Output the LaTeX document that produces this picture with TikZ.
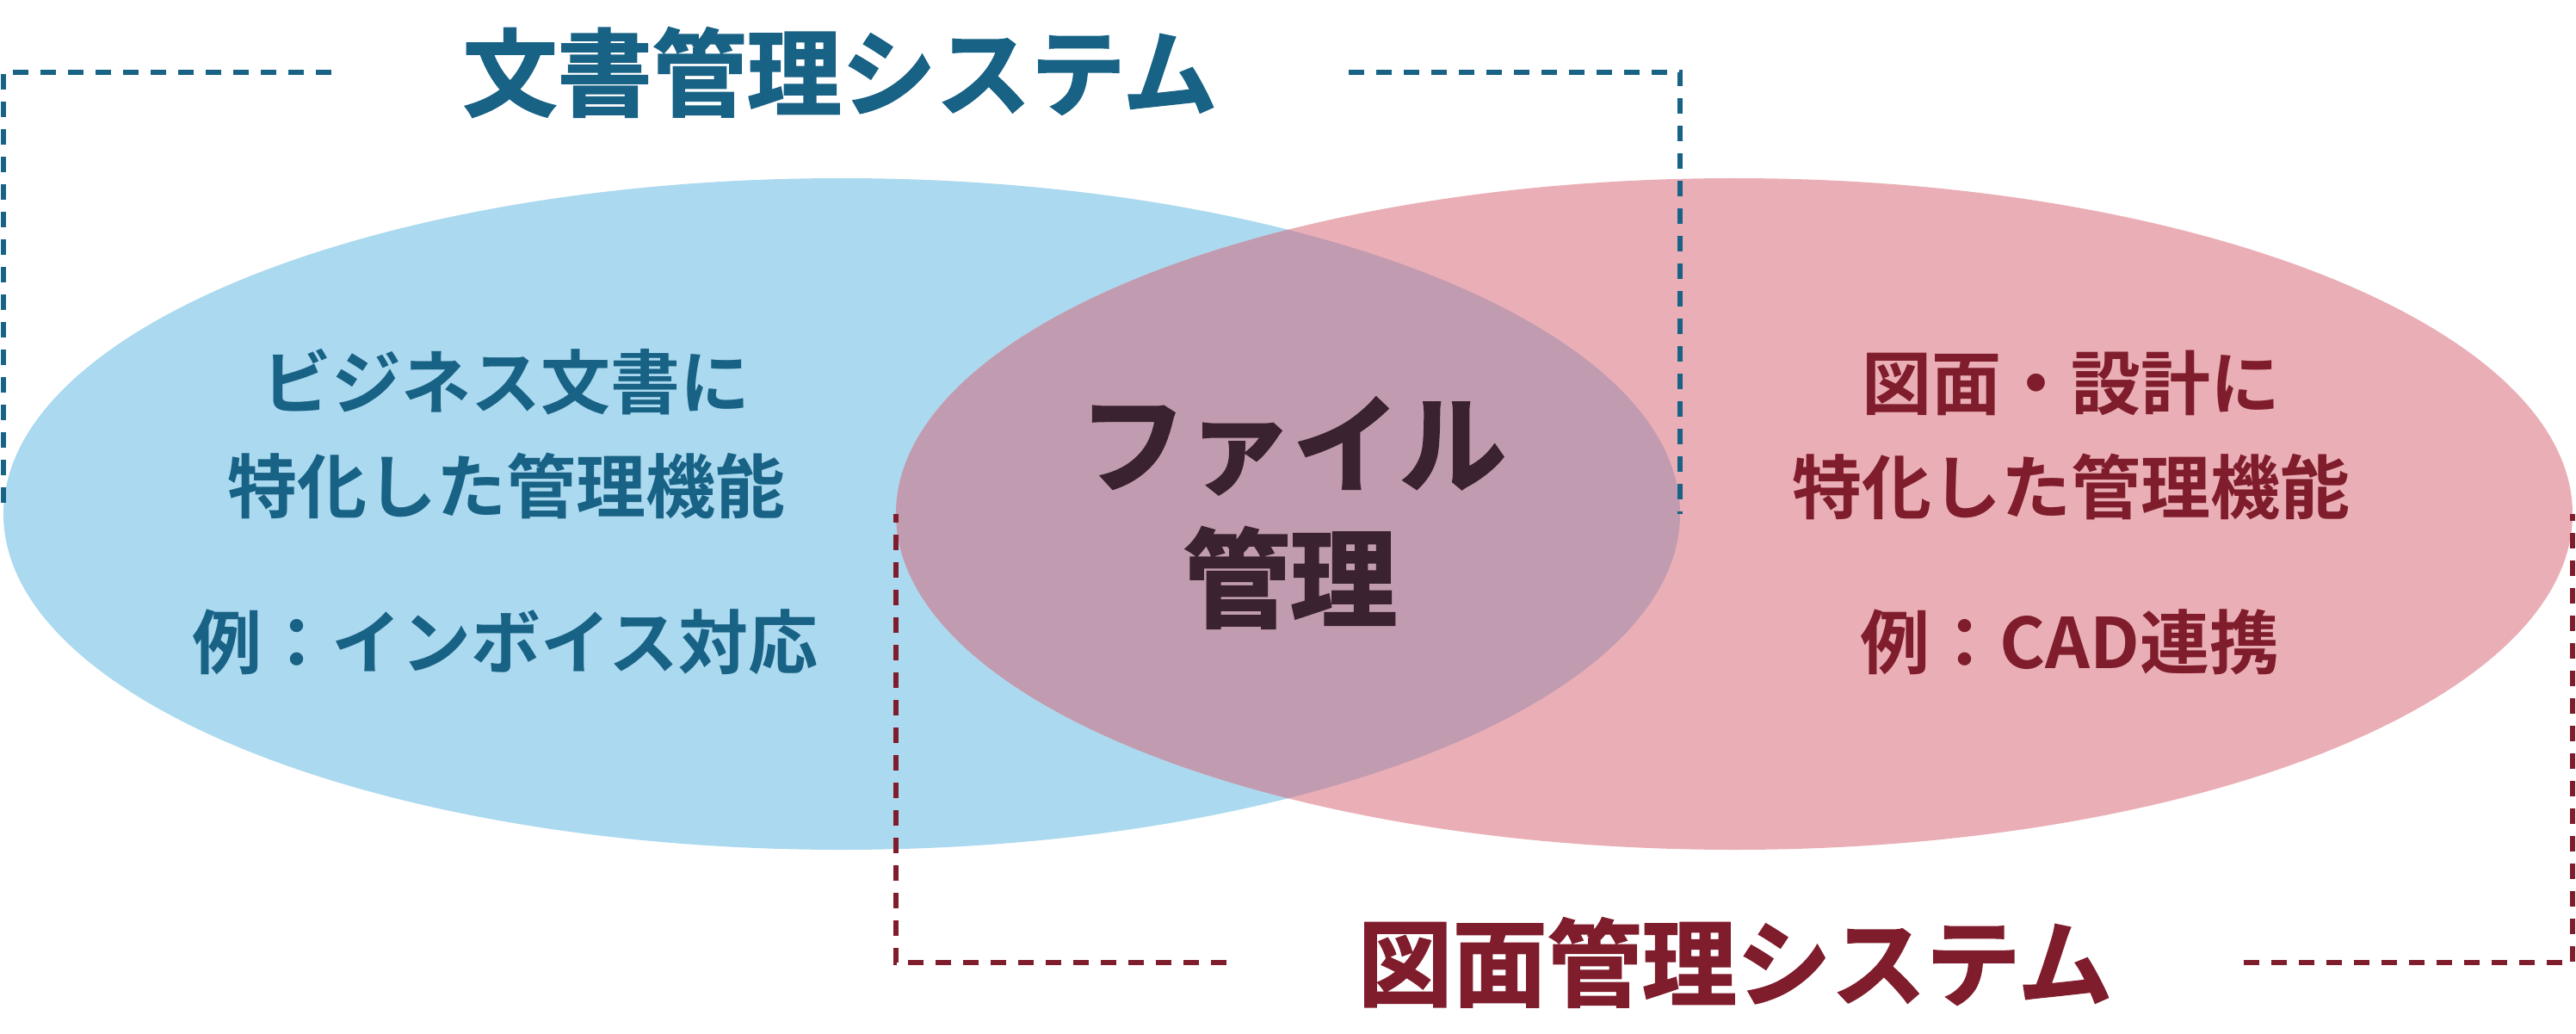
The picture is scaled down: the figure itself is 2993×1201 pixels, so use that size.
\documentclass[tikz,border=0pt]{standalone}
\usepackage{fontspec}
\usetikzlibrary{shapes.geometric}
\setmainfont{Noto Sans CJK JP}[BoldFont=* Bold]
\newfontfamily\cjkbold{Noto Sans CJK JP Bold}
\newfontfamily\cjkheavy{Noto Sans CJK JP Bold}[FakeBold=1.6]
\newfontfamily\cjkcenter{Noto Sans CJK JP Bold}[FakeBold=2.2]
\definecolor{bluefill}{HTML}{ABD9EF}
\definecolor{pinkfill}{HTML}{EAAFB6}
\definecolor{overlapfill}{HTML}{C19BB0}
\definecolor{bluetext}{HTML}{186285}
\definecolor{redtext}{HTML}{801D2C}
\definecolor{centertext}{HTML}{3A2230}
\tikzset{
  ell/.style={ellipse, inner sep=0pt, minimum width=1948pt, minimum height=780pt},
  bluedash/.style={draw=bluetext, line width=5.5pt, dash pattern=on 18pt off 14pt},
  reddash/.style={draw=redtext, line width=5.5pt, dash pattern=on 18pt off 14pt},
  bodytext/.style={inner sep=0pt, font=\cjkbold\fontsize{81}{97}\selectfont},
  titletext/.style={inner ysep=0pt, inner xsep=152pt, font=\cjkheavy\fontsize{110}{130}\selectfont},
  centerlabel/.style={inner sep=0pt, text=centertext, font=\cjkcenter\fontsize{124}{140}\selectfont}
}
\begin{document}
\begin{tikzpicture}[x=1pt, y=-1pt]
\useasboundingbox (0,0) rectangle (2993,1201);
% ellipses
\node[ell, fill=bluefill] (blue) at (978,597) {};
\node[ell, fill=pinkfill] (pink) at (2015,597) {};
\begin{scope}
  \clip (978,597) ellipse [x radius=974, y radius=390];
  \fill[overlapfill] (2015,597) ellipse [x radius=974, y radius=390];
\end{scope}
% titles
\node[titletext, text=bluetext] (t1) at (976,84) {文書管理システム};
\node[titletext, text=redtext] (t2) at (2016,1118) {図面管理システム};
% brackets
\draw[bluedash] (t1.west) -| (blue.west);
\draw[bluedash] (t1.east) -| (blue.east);
\draw[reddash] (t2.west) -| (pink.west);
\draw[reddash] (t2.east) -| (pink.east);
% left texts
\node[bodytext, text=bluetext] (l1) at (588,444) {ビジネス文書に};
\node[bodytext, text=bluetext] (l2) at (588,564) {特化した管理機能};
\node[bodytext, text=bluetext] (l3) at (587,746) {例：インボイス対応};
% right texts
\node[bodytext, text=redtext] (r1) at (2406,445) {図面・設計に};
\node[bodytext, text=redtext] (r2) at (2406,565) {特化した管理機能};
\node[bodytext, text=redtext] (r3) at (2405,746) {例：CAD連携};
% center
\node[centerlabel] (c1) at (1502,518) {ファイル};
\node[centerlabel] (c2) at (1499,671) {管理};
\end{tikzpicture}
\end{document}
